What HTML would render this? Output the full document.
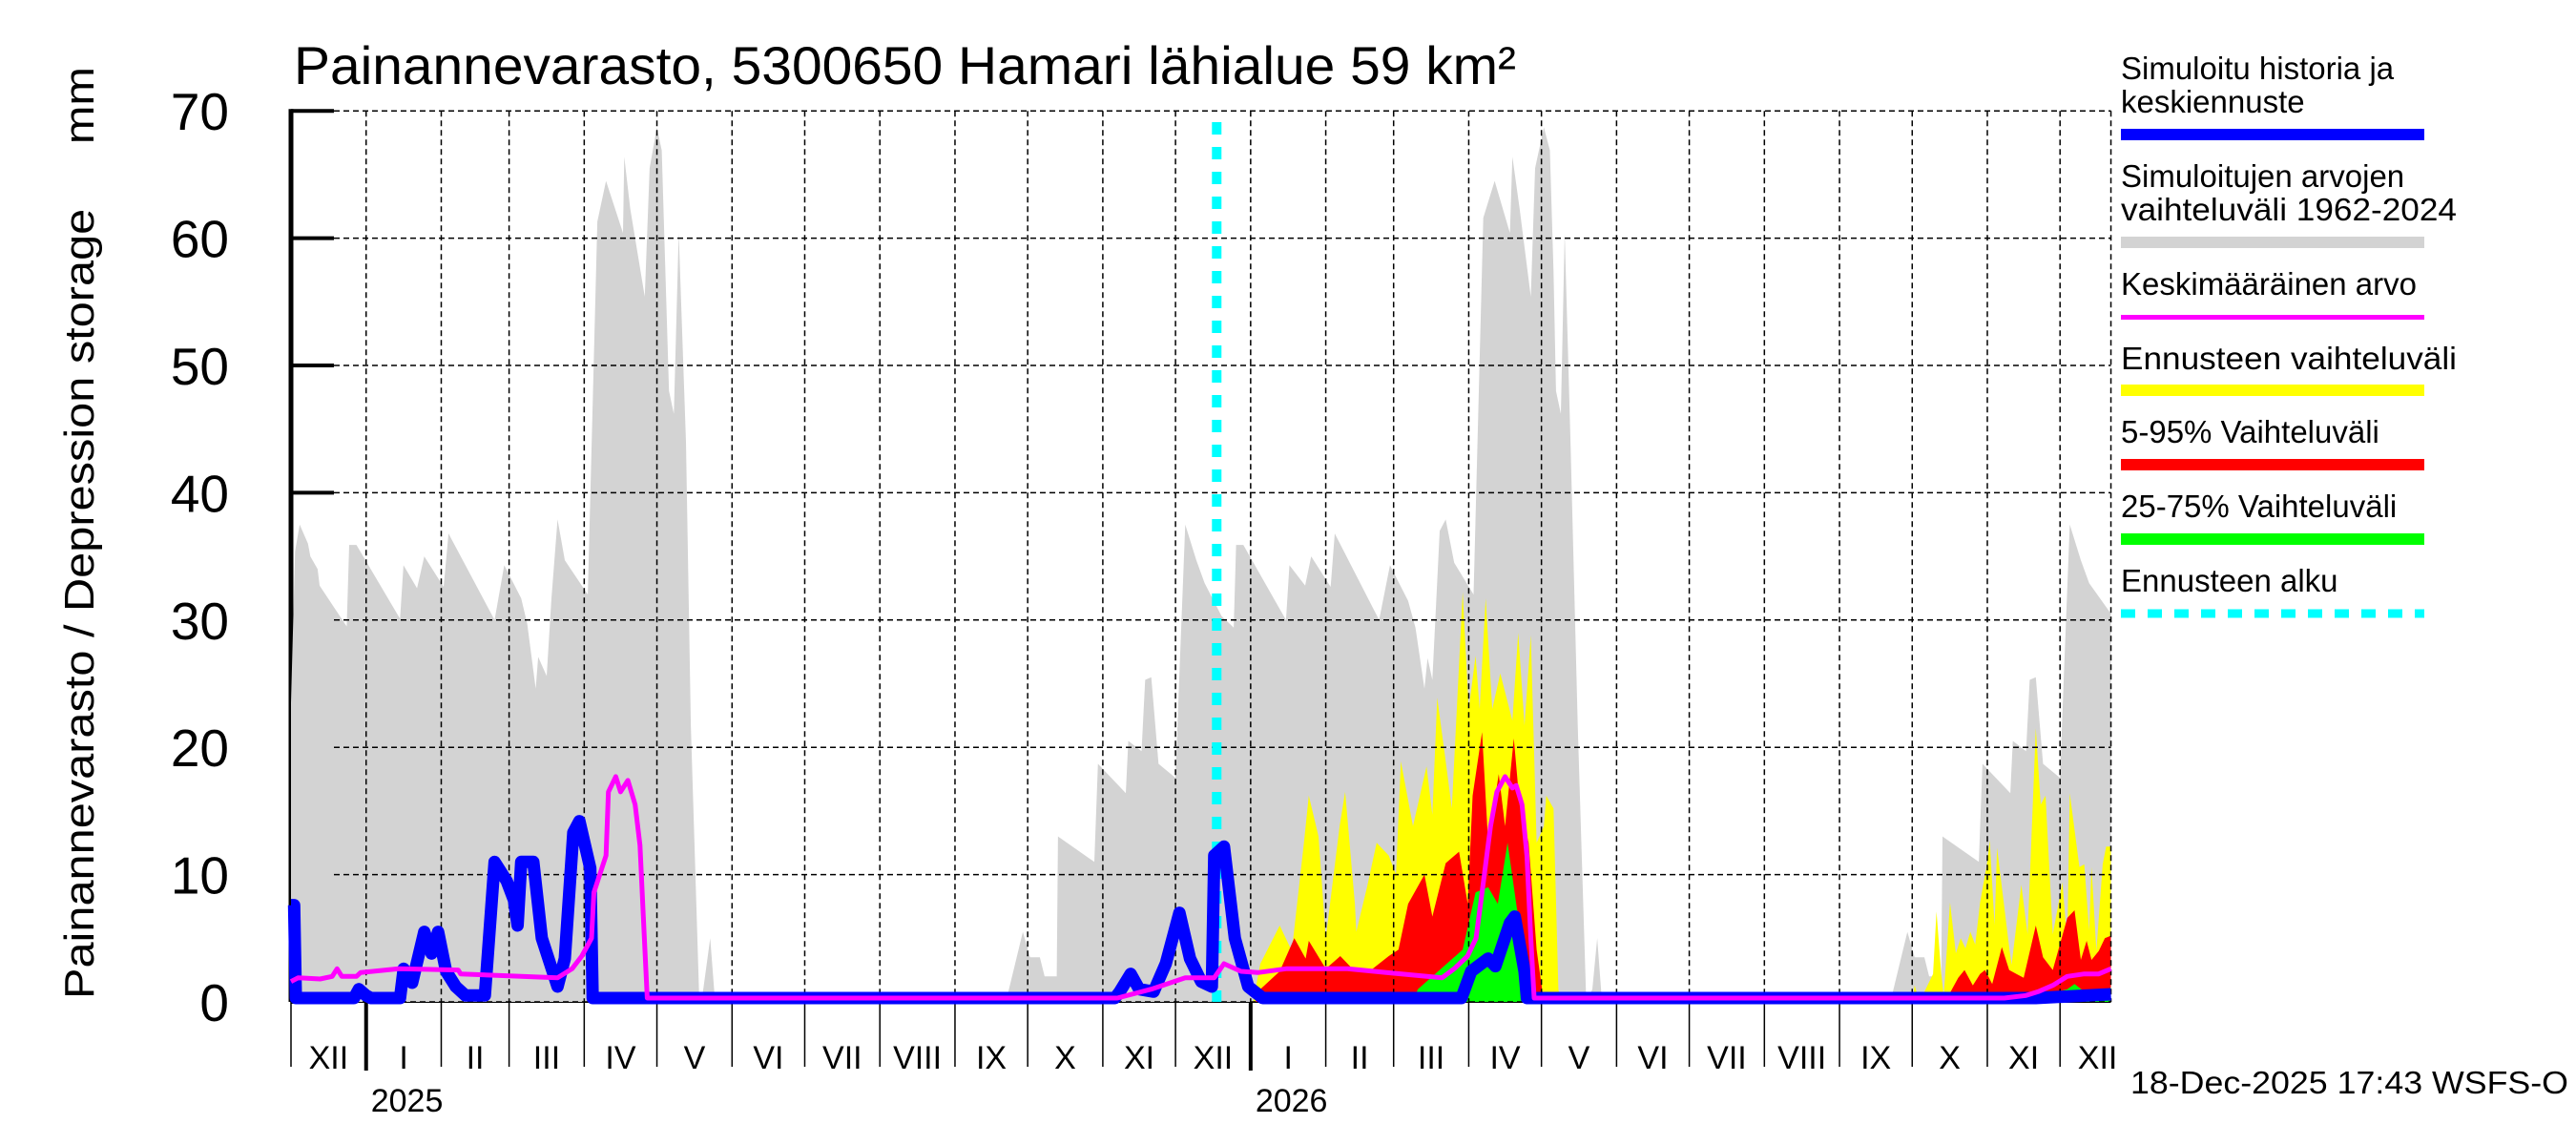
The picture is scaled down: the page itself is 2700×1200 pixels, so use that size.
<!DOCTYPE html>
<html><head><meta charset="utf-8"><style>
html,body{margin:0;padding:0;background:#fff;}
svg{display:block;font-family:"Liberation Sans",Arial,sans-serif;}
</style></head><body>
<svg id="chart" width="2700" height="1200" viewBox="0 0 2700 1200" xmlns="http://www.w3.org/2000/svg">
<rect width="2700" height="1200" fill="#fff"/>
<text x="308" y="88" font-size="56" textLength="1281" lengthAdjust="spacingAndGlyphs">Painannevarasto, 5300650 Hamari lähialue 59 km²</text>
<text style="white-space:pre" transform="translate(98,1047) rotate(-90)" font-size="44" textLength="977" lengthAdjust="spacingAndGlyphs">Painannevarasto / Depression storage     mm</text>
<g id="axisLayer"></g>
<g id="fillLayer"></g>
<g id="gridLayer"></g>
<g id="lineLayer"></g>
<g id="legend">
<text x="2223" y="83" font-size="33">Simuloitu historia ja</text>
<text x="2223" y="118" font-size="33">keskiennuste</text>
<rect x="2223" y="135" width="318" height="12" fill="#0000ff"/>
<text x="2223" y="196" font-size="33">Simuloitujen arvojen</text>
<text x="2223" y="231" font-size="33" textLength="352" lengthAdjust="spacingAndGlyphs">vaihteluväli 1962-2024</text>
<rect x="2223" y="248" width="318" height="12" fill="#d3d3d3"/>
<text x="2223" y="309" font-size="33">Keskimääräinen arvo</text>
<rect x="2223" y="330" width="318" height="5" fill="#ff00ff"/>
<text x="2223" y="387" font-size="33" textLength="352" lengthAdjust="spacingAndGlyphs">Ennusteen vaihteluväli</text>
<rect x="2223" y="403" width="318" height="12" fill="#ffff00"/>
<text x="2223" y="464" font-size="33">5-95% Vaihteluväli</text>
<rect x="2223" y="481" width="318" height="12" fill="#ff0000"/>
<text x="2223" y="542" font-size="33">25-75% Vaihteluväli</text>
<rect x="2223" y="559" width="318" height="12" fill="#00ff00"/>
<text x="2223" y="620" font-size="33">Ennusteen alku</text>
<line x1="2223" y1="643" x2="2541" y2="643" stroke="#00ffff" stroke-width="9" stroke-dasharray="15 13"/>
</g>
<text x="2233" y="1146" font-size="33" textLength="459" lengthAdjust="spacingAndGlyphs">18-Dec-2025 17:43 WSFS-O</text>
</svg>
<script>
var monthStartDays=[0,31,62,90,121,151,182,212,243,274,304,335,365,396,427,455,486,516,547,577,608,639,669,700,730,761];
var monthLabels=["XII","I","II","III","IV","V","VI","VII","VIII","IX","X","XI","XII","I","II","III","IV","V","VI","VII","VIII","IX","X","XI","XII"];
var yearLabels=["2025","2026"];
var yearDays=[31,396];
var yTicks=[0,10,20,30,40,50,60,70];
var forecastStartDay=382;
var grayDays=[0,0,1.7,3.6,7,8,11,11.8,23,24,27,45,46.4,52,55,63,65,84,88,95,97.5,101,102,105.5,107.5,110,113,122.5,126.4,130,137,137.5,140,146,148,151,153,154.5,156,158,160,163,165,168.5,170,173,175,
295,302,305,309,311,316,316.5,331.5,333,344.5,345.5,351,352.5,355,358,365,366.6,369,373.6,377,384,389,390,393,410.6,412,418.5,421,429,430.7,449,453.5,461,464,467.7,469,471,474,476.5,480,488,492,496.7,503,504,507,511.6,513.4,517,519.5,521,522,524,525.6,528,531,534.5,537,539,541,
660,667,670,674,676,681,681.5,696.5,698,709.5,710.5,716,717.5,720,723,730,731.6,734,738.6,742,751,751];
var grayVals=[0,23.5,35.4,37.5,36,35,34,32.7,29.5,35.9,35.9,30.1,34.3,32.5,35,32.6,36.8,30,34.3,31.7,29.7,24.6,27.1,25.6,31.7,37.9,34.7,32,61.3,64.5,60.4,66.4,62.3,55.4,65.5,68.7,66.9,57.4,48,46.2,60.4,44,21.7,0,0.8,5,0,
0,5.5,3.5,3.5,2,2,13,11,18.7,16.4,20.5,19.7,25.3,25.5,18.7,17.6,25.8,37.5,34.7,32.9,30.3,29.4,35.9,35.9,30,34.3,32.7,35,32.6,36.8,30,34.3,31.5,29.4,24.6,27,25.3,37,37.9,34.5,32,61.6,64.5,60.4,66.4,62.3,55.4,65.5,68.7,66.9,57.4,48,46.2,60.4,44,21.7,0,1,5,0,
0,5.5,3.5,3.5,2,2,13,11,18.7,16.4,20.5,19.7,25.3,25.5,18.7,17.6,25.8,37.5,34.7,32.9,30.5,0];
var yellowDays=[397,400,408,413,418,420,424,427,432.7,435,439,439.6,444,448,453,456,458,463,468.6,471,473,476.5,479,483.5,486,488.8,490.5,493,495.7,499,504,506.4,509,511.6,514,517,518,521,523,524,
669,670,672,677.6,679,681,682,684.6,687,689,691,693,695,697,700,701,703,704,709,710,714,716.6,720,722,724,727,731,733,734,738,740,742,743,745,747.6,749,751,751];
var yellowVals=[0,3,6,4,12.5,16.2,13,5,13.8,16.5,7.7,5.5,9,12.5,11.5,10,18.9,13.8,18.5,14.7,23.9,18.9,15.2,32.2,23,27.2,23,31.7,23,25.8,22.1,29,21.7,28.8,12.5,13.8,16.2,15.2,1,0,
0,1.3,0,2.2,7.1,2.2,0.5,7.8,3.8,5,4.2,5.5,4.5,7.8,11,12.7,6,12.1,4.3,2.9,9.2,5.3,21.5,15.5,16.2,5.3,9.4,4.6,16.4,10.6,10.8,5.6,10.6,4,10.8,12.2,12.2,0];
var redDays=[398,400,408,414,418.7,420,427,433,439,445,453,457,461,467.7,471,476.5,482,485.6,487.6,491.5,494,498.4,501,504.6,507,510.7,514,517,
683,684,688,690.6,694,697,699,702,706,709,712,715,720,723,727,733,736,738.6,741,743,746,748.5,751,751];
var redVals=[0,1,2.4,5,3.4,4.8,2.6,3.6,2.4,2.4,3.6,4.1,7.7,10,6.7,10.9,11.8,7.7,16.2,21.2,12.5,17.9,13.8,20.7,15.5,12.5,4.1,0,
0,0.5,1.9,2.5,1.3,2.2,2.5,1.4,4.3,2.5,2.2,1.9,6,3.5,2.5,6.6,7.2,3.3,4.8,3.3,4,5,5.2,0];
var greenDays=[463,465,483.5,488.8,494,498,502,506,511.6,513,
716,718,725,733,736,740,746,751,751];
var greenVals=[0,1,4.1,8.6,9,7.7,12.5,7.2,1,0,
0,0.8,0.6,1,1.4,0.8,0.9,1.1,0];
var blueDays=[0,1.3,2,26,28,31,33,45,46.5,50,55,58,60.7,64,68,72,80,84,89,92,93.5,95,100,103.5,110,113,116.5,119,123.5,124.5,340,342,346.5,350,356,361,366.6,371,375.6,380,381,385,389.5,395,401,483,487,494,497,503,505,509,510,720,751];
var blueVals=[7.6,7.6,0.3,0.3,1,0.5,0.3,0.3,2.6,1.5,5.5,3.8,5.5,2.4,1.2,0.5,0.5,11,9.5,8,6,11,11,5,1.2,3.4,13.3,14.2,10.5,0.3,0.3,0.8,2.2,1,0.8,3,7,3.4,1.6,1.2,11.5,12.2,5,1.2,0.3,0.3,2.4,3.4,2.8,6.2,6.7,2.4,0.3,0.3,0.6];
var meanDays=[0,3,12,17,19,21,27,28.7,44.5,69,70,110,116,120,124,125,130,131,134,136,139,142,144,145.4,147,341,355,369,381,385,392,399,410.6,436,452,475,480,485.5,489,491.5,495,497.6,501,504,505.6,508,510,511.6,513,707,716,721,727,733,740,746,751];
var meanVals=[1.6,1.9,1.8,2,2.6,2,2,2.3,2.6,2.5,2.2,1.9,2.6,3.6,5,8.6,11.5,16.5,17.7,16.5,17.4,15.5,12.3,6.7,0.3,0.3,1,1.9,1.9,3,2.4,2.3,2.6,2.6,2.3,1.9,2.6,3.6,5,8.6,13.8,16.5,17.7,16.8,17,15.5,11.5,5,0.3,0.3,0.5,0.8,1.3,2,2.2,2.2,2.6];

var NS="http://www.w3.org/2000/svg";
var X0=305,PXD=2.54,Y0=1050,PXV=13.34,DMAX=751;
function xs(d){return X0+Math.min(d,DMAX)*PXD;}
function ys(v){return Y0-v*PXV;}
function mk(tag,parent,attrs){var e=document.createElementNS(NS,tag);for(var k in attrs)e.setAttribute(k,attrs[k]);parent.appendChild(e);return e;}
var axisL=document.getElementById('axisLayer'),fillL=document.getElementById('fillLayer'),gridL=document.getElementById('gridLayer'),lineL=document.getElementById('lineLayer');
var xR=xs(DMAX);
var ax=mk('line',axisL,{x1:X0,y1:ys(70)-2,x2:X0,y2:Y0,stroke:'#000','stroke-width':5});


yTicks.forEach(function(v){
  var t=mk('line',axisL,{x1:X0,y1:ys(v),x2:X0+45,y2:ys(v),stroke:'#000','stroke-width':4});
  
  
  var l=mk('text',axisL,{x:240,y:ys(v)+20,'font-size':55,'text-anchor':'end'});
  l.textContent=String(v);
  
  
});
var bx=mk('line',axisL,{x1:X0,y1:Y0,x2:xR,y2:Y0,stroke:'#000','stroke-width':2});


for(var i=0;i<monthLabels.length;i++){
  var d0=monthStartDays[i],d1=monthStartDays[i+1];
  var isYear=yearDays.indexOf(d0)>=0;
  var tk=mk('line',axisL,{x1:xs(d0),y1:Y0,x2:xs(d0),y2:isYear?1122:1118,stroke:'#000','stroke-width':isYear?4:1.5});
  
  
  var ml=mk('text',axisL,{x:(xs(d0)+X0+Math.min(d1,DMAX+10)*PXD)/2,y:1120,'font-size':34,'text-anchor':'middle'});
  ml.textContent=monthLabels[i];
  
  
}
yearLabels.forEach(function(y,i){
  var t=mk('text',axisL,{x:xs(yearDays[i])+5,y:1165,'font-size':34});
  t.textContent=y;
  
  
});
function area(days,vals,color,name){
  var p='';for(var i=0;i<days.length;i++){p+=(i?'L':'M')+xs(days[i]).toFixed(1)+','+ys(vals[i]).toFixed(1);}
  p+='Z';
  var e=mk('path',fillL,{d:p,fill:color});
  
  
}
area(grayDays,grayVals,'#d3d3d3','historical-range-area');
area(yellowDays,yellowVals,'#ffff00','forecast-range-area');
area(redDays,redVals,'#ff0000','forecast-5-95-area');
area(greenDays,greenVals,'#00ff00','forecast-25-75-area');
yTicks.forEach(function(v){
  var g=mk('line',gridL,{x1:X0+45,y1:ys(v),x2:xR,y2:ys(v),stroke:'#000','stroke-width':1.5,'stroke-dasharray':'6 4'});
  
  
});
for(var j=1;j<monthStartDays.length-1;j++){
  var g2=mk('line',gridL,{x1:xs(monthStartDays[j]),y1:ys(70),x2:xs(monthStartDays[j]),y2:Y0,stroke:'#000','stroke-width':1.5,'stroke-dasharray':'6 4'});
  
  
}
var gr=mk('line',gridL,{x1:xR,y1:ys(70),x2:xR,y2:Y0,stroke:'#000','stroke-width':1.5,'stroke-dasharray':'6 4'});


var cy=mk('line',lineL,{x1:xs(forecastStartDay),y1:128,x2:xs(forecastStartDay),y2:Y0,stroke:'#00ffff','stroke-width':10,'stroke-dasharray':'13 13'});


function line(days,vals,color,w,name){
  var p='';for(var i=0;i<days.length;i++){p+=(i?' ':'')+xs(days[i]).toFixed(1)+','+ys(vals[i]).toFixed(1);}
  var e=mk('polyline',lineL,{points:p,fill:'none',stroke:color,'stroke-width':w,'stroke-linejoin':'round'});
  
  
}
line(blueDays,blueVals,'#0000ff',13,'simulated-history-line');
line(meanDays,meanVals,'#ff00ff',5,'mean-value-line');
</script>
</body></html>
